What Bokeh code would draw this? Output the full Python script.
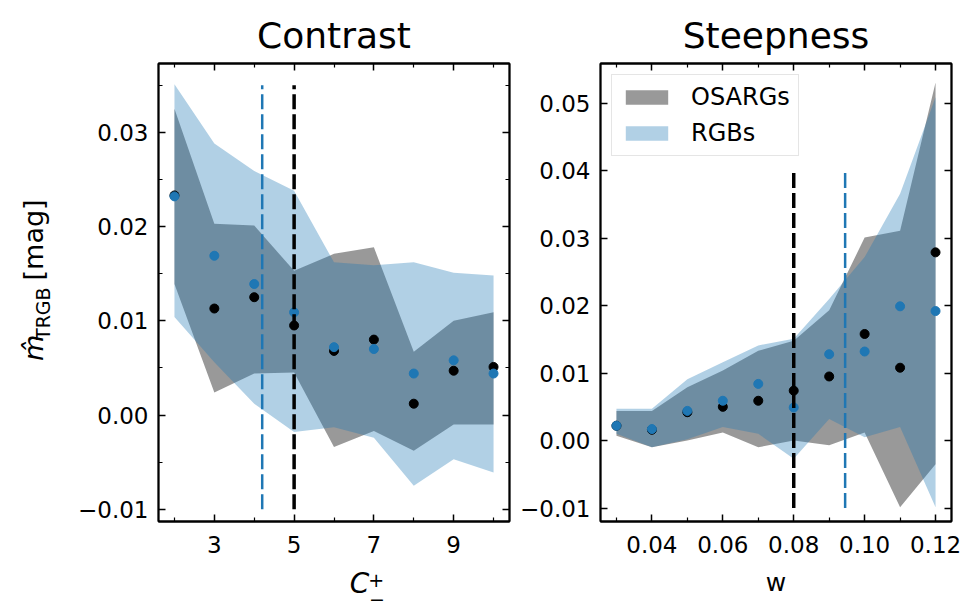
import math
from bokeh.plotting import figure
from bokeh.layouts import row, column
from bokeh.models import FixedTicker, LinearAxis, Label, Range1d
from bokeh.embed import file_html
from bokeh.resources import INLINE

# ---------------- data: Contrast panel ----------------
c_vals = [2, 3, 4, 5, 6, 7, 8, 9, 10]
c_osarg_mean = [0.0233, 0.0113, 0.0125, 0.0095, 0.0068, 0.0080, 0.0012, 0.0047, 0.0051]
c_rgb_mean = [0.0232, 0.0169, 0.0139, 0.0109, 0.0072, 0.0070, 0.0044, 0.0058, 0.0044]
c_osarg_hi = [0.0325, 0.0203, 0.0201, 0.0153, 0.0171, 0.0178, 0.0067, 0.0100, 0.0109]
c_osarg_lo = [0.0139, 0.0024, 0.0044, 0.0045, -0.0034, -0.0017, -0.0038, -0.0010, -0.0010]
c_rgb_hi = [0.0351, 0.0288, 0.0259, 0.0238, 0.0162, 0.0159, 0.0162, 0.0151, 0.0148]
c_rgb_lo = [0.0104, 0.0056, 0.0012, -0.0018, -0.0013, -0.0024, -0.0075, -0.0047, -0.0061]
c_vline_osarg = 5.0
c_vline_rgb = 4.2
c_vline_span = [-0.010, 0.035]

# ---------------- data: Steepness panel ----------------
w_vals = [0.03, 0.04, 0.05, 0.06, 0.07, 0.08, 0.09, 0.10, 0.11, 0.12]
s_osarg_mean = [0.0022, 0.0016, 0.0042, 0.0050, 0.0059, 0.0074, 0.0095, 0.0158, 0.0108, 0.0279]
s_rgb_mean = [0.0022, 0.0017, 0.0044, 0.0059, 0.0084, 0.0049, 0.0128, 0.0132, 0.0199, 0.0192]
s_osarg_hi = [0.0044, 0.0044, 0.0079, 0.0104, 0.0133, 0.0148, 0.0193, 0.0301, 0.0311, 0.0531]
s_osarg_lo = [0.0007, -0.0010, 0.0000, 0.0012, -0.0010, 0.0000, -0.0007, 0.0012, -0.0099, -0.0035]
s_rgb_hi = [0.0047, 0.0047, 0.0091, 0.0116, 0.0141, 0.0151, 0.0210, 0.0272, 0.0366, 0.0509]
s_rgb_lo = [0.0010, -0.0010, 0.0002, 0.0020, 0.0010, -0.0027, 0.0032, 0.0005, 0.0020, -0.0099]
s_vline_osarg = 0.080
s_vline_rgb = 0.0945
s_vline_span = [-0.010, 0.040]

# ---------------- ticks ----------------
c_xticks = [3, 5, 7, 9]
c_xminor = [2, 4, 6, 8, 10]
c_yticks = [-0.01, 0.0, 0.01, 0.02, 0.03]
c_yminor = [-0.005, 0.005, 0.015, 0.025, 0.035]
c_ylabels = ["\u22120.01", "0.00", "0.01", "0.02", "0.03"]
s_xticks = [0.04, 0.06, 0.08, 0.10, 0.12]
s_xlabels = ["0.04", "0.06", "0.08", "0.10", "0.12"]
s_xminor = [0.03, 0.05, 0.07, 0.09, 0.11]
s_yticks = [-0.01, 0.0, 0.01, 0.02, 0.03, 0.04, 0.05]
s_ylabels = ["\u22120.01", "0.00", "0.01", "0.02", "0.03", "0.04", "0.05"]

FONT = "DejaVu Sans"
GRAY = "black"
GRAY_ALPHA = 0.40
BLUE = "#1f77b4"
BLUE_ALPHA = 0.35
FW, FH = 351, 458


def style_axis(ax, ticks, minor, labels, show, standoff):
    ax.ticker = FixedTicker(ticks=ticks, minor_ticks=minor)
    ax.major_tick_in = 7
    ax.major_tick_out = 0
    ax.minor_tick_in = 4
    ax.minor_tick_out = 0
    ax.major_tick_line_width = 1.5
    ax.minor_tick_line_width = 1.2
    ax.major_tick_line_color = "black"
    ax.minor_tick_line_color = "black"
    ax.axis_line_width = 1.8
    ax.axis_line_color = "black"
    ax.major_label_text_font = FONT
    ax.major_label_text_color = "black"
    ax.major_label_text_font_size = "23px"
    if show:
        if labels is not None:
            ax.major_label_overrides = {t: l for t, l in zip(ticks, labels)}
        ax.major_label_standoff = standoff
    else:
        ax.major_label_overrides = {t: "" for t in ticks}
        ax.major_label_standoff = 0


def make_fig(title, xr, yr, bl, br, bb):
    p = figure(frame_width=FW, frame_height=FH, x_range=Range1d(*xr), y_range=Range1d(*yr),
               output_backend="svg", toolbar_location=None, title=title,
               min_border_left=bl, min_border_right=br, min_border_top=63, min_border_bottom=bb)
    p.title.align = "center"
    p.title.text_font = FONT
    p.title.text_font_size = "36px"
    p.title.text_font_style = "normal"
    p.title.text_color = "black"
    p.title.standoff = 15
    p.xgrid.visible = False
    p.ygrid.visible = False
    p.outline_line_color = "black"
    p.outline_line_width = 1.8
    p.background_fill_color = "white"
    p.border_fill_color = "white"
    return p


def text_fig(w, h):
    f = figure(width=w, height=h, x_range=Range1d(0, w), y_range=Range1d(0, h),
               x_axis_type=None, y_axis_type=None, output_backend="svg",
               toolbar_location=None, min_border=0)
    f.outline_line_color = None
    f.xgrid.visible = False
    f.ygrid.visible = False
    f.background_fill_color = "white"
    f.border_fill_color = "white"
    return f


# ---------------- Contrast ----------------
p1 = make_fig("Contrast", (1.6, 10.4), (-0.0113, 0.0373), 98, 8, 45)
p1.varea(x=c_vals, y1=c_osarg_lo, y2=c_osarg_hi, fill_color=GRAY, fill_alpha=GRAY_ALPHA)
p1.varea(x=c_vals, y1=c_rgb_lo, y2=c_rgb_hi, fill_color=BLUE, fill_alpha=BLUE_ALPHA)
p1.scatter(x=c_vals, y=c_osarg_mean, size=9, color="black")
p1.scatter(x=c_vals, y=c_rgb_mean, size=9, color=BLUE)
p1.segment(x0=[c_vline_rgb], x1=[c_vline_rgb], y0=[c_vline_span[0]], y1=[c_vline_span[1]],
           line_color=BLUE, line_width=2.5, line_dash="15 5")
p1.segment(x0=[c_vline_osarg], x1=[c_vline_osarg], y0=[c_vline_span[0]], y1=[c_vline_span[1]],
           line_color="black", line_width=3.5, line_dash="15 5")

style_axis(p1.xaxis[0], c_xticks, c_xminor, None, True, 14)
style_axis(p1.yaxis[0], c_yticks, c_yminor, c_ylabels, True, 10)
ax_r = LinearAxis()
style_axis(ax_r, c_yticks, c_yminor, None, False, 0)
p1.add_layout(ax_r, "right")
ax_t = LinearAxis()
style_axis(ax_t, c_xticks, c_xminor, None, False, 0)
p1.add_layout(ax_t, "above")

# y-axis label strip (left of the Contrast panel)
ylab = text_fig(60, 608)
ylab.add_layout(Label(x=48, y=213, text="m\u0302", angle=math.pi / 2,
                      text_font=FONT, text_font_style="italic", text_font_size="27px",
                      text_color="black"))
ylab.add_layout(Label(x=53, y=241, text="TRGB", angle=math.pi / 2,
                      text_font=FONT, text_font_size="19px", text_color="black"))
ylab.add_layout(Label(x=48, y=320, text="[mag]", angle=math.pi / 2,
                      text_font=FONT, text_font_size="27px", text_color="black"))

# x-axis label strip under the Contrast panel: C with +/- stacked
clab = text_fig(457, 42)
clab.add_layout(Label(x=249, y=9, text="C", text_font=FONT, text_font_style="italic",
                      text_font_size="28px", text_color="black"))
clab.add_layout(Label(x=273, y=22, text="+", text_font=FONT, text_font_size="19px",
                      text_color="black"))
clab.add_layout(Label(x=274, y=3, text="\u2212", text_font=FONT, text_font_size="19px",
                      text_color="black"))

# ---------------- Steepness ----------------
p2 = make_fig("Steepness", (0.0255, 0.1245), (-0.0120, 0.0559), 82, 12, 87)
p2.varea(x=w_vals, y1=s_osarg_lo, y2=s_osarg_hi, fill_color=GRAY, fill_alpha=GRAY_ALPHA,
         legend_label="OSARGs")
p2.varea(x=w_vals, y1=s_rgb_lo, y2=s_rgb_hi, fill_color=BLUE, fill_alpha=BLUE_ALPHA,
         legend_label="RGBs")
p2.scatter(x=w_vals, y=s_osarg_mean, size=9, color="black")
p2.scatter(x=w_vals, y=s_rgb_mean, size=9, color=BLUE)
p2.segment(x0=[s_vline_osarg], x1=[s_vline_osarg], y0=[s_vline_span[0]], y1=[s_vline_span[1]],
           line_color="black", line_width=3.5, line_dash="15 5")
p2.segment(x0=[s_vline_rgb], x1=[s_vline_rgb], y0=[s_vline_span[0]], y1=[s_vline_span[1]],
           line_color=BLUE, line_width=2.5, line_dash="15 5")

style_axis(p2.xaxis[0], s_xticks, s_xminor, s_xlabels, True, 14)
style_axis(p2.yaxis[0], s_yticks, [], s_ylabels, True, 10)
p2.xaxis[0].axis_label = "w"
p2.xaxis[0].axis_label_text_font = FONT
p2.xaxis[0].axis_label_text_font_size = "25px"
p2.xaxis[0].axis_label_text_font_style = "normal"
p2.xaxis[0].axis_label_text_color = "black"
p2.xaxis[0].axis_label_standoff = 12
ax_r2 = LinearAxis()
style_axis(ax_r2, s_yticks, [], None, False, 0)
p2.add_layout(ax_r2, "right")
ax_t2 = LinearAxis()
style_axis(ax_t2, s_xticks, s_xminor, None, False, 0)
p2.add_layout(ax_t2, "above")

lg = p2.legend[0]
lg.location = "top_left"
lg.margin = 11
lg.padding = 8
lg.spacing = 8
lg.glyph_width = 53
lg.glyph_height = 18
lg.label_standoff = 18
lg.label_text_font = FONT
lg.label_text_font_size = "24px"
lg.label_text_color = "black"
lg.border_line_color = "#cccccc"
lg.border_line_width = 1.5
lg.background_fill_color = "white"
lg.background_fill_alpha = 0.8

layout = row(ylab, column(p1, clab), p2)
open("out.html", "w").write(file_html(layout, INLINE))
